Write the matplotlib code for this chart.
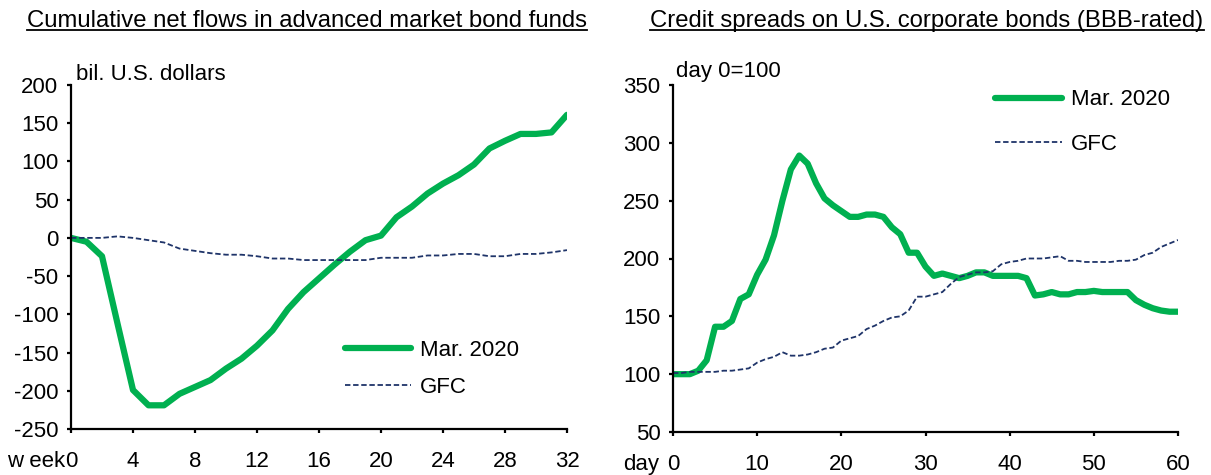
import matplotlib
matplotlib.use("Agg")
import matplotlib.pyplot as plt
from matplotlib.lines import Line2D

plt.rcParams['font.family'] = ['Liberation Sans', 'DejaVu Sans']
plt.rcParams['font.size'] = 16
plt.rcParams['axes.unicode_minus'] = False

# Left panel: cumulative net flows (bil. U.S. dollars), weekly
weeks = list(range(33))
flows_2020 = [0, -5, -24, -112, -199, -219, -219, -204, -195, -186, -171, -158, -141,
              -121, -93, -71, -53, -35, -18, -3, 3, 27, 41, 58, 71, 82, 96, 117, 127,
              136, 136, 138, 161]
flows_gfc = [0, 0, 0, 2, 0, -3, -6, -14, -17, -20, -22, -22, -24, -27, -27, -29, -29,
             -29, -29, -29, -26, -26, -26, -23, -23, -21, -21, -24, -24, -21, -21, -19, -16]

# Right panel: BBB credit spreads (day 0=100), daily
days = list(range(61))
spread_2020 = [100, 100, 100, 103, 112, 141, 141, 146, 165, 169, 186, 199, 220, 250, 277,
               289, 282, 265, 252, 246, 241, 236, 236, 238, 238, 236, 227, 221, 205, 205,
               193, 185, 187, 185, 183, 185, 188, 188, 185, 185, 185, 185, 183, 168, 169,
               171, 169, 169, 171, 171, 172, 171, 171, 171, 171, 164, 160, 157, 155, 154, 154]
spread_gfc = [101, 101, 102, 102, 102, 102, 103, 103, 104, 105, 110, 113, 115, 119, 116,
              116, 117, 119, 122, 123, 129, 131, 133, 139, 142, 146, 149, 150, 155, 167,
              167, 169, 171, 178, 184, 186, 188, 188, 189, 195, 197, 198, 200, 200, 200,
              201, 202, 198, 198, 197, 197, 197, 197, 198, 198, 199, 203, 205, 210, 213, 216]

green = '#00B050'
navy = '#1F3469'

W, H = 1211, 475
fig = plt.figure(figsize=(W / 100, H / 100), dpi=100)

def px_axes(left, right, top, bottom):
    return fig.add_axes([left / W, 1 - bottom / H, (right - left) / W, (bottom - top) / H])

ax1 = px_axes(71, 567, 85, 429)
ax2 = px_axes(673, 1178, 85, 432)

XPAD = 12.5

def style(ax):
    for s in ['top', 'right']:
        ax.spines[s].set_visible(False)
    for s in ['left', 'bottom']:
        ax.spines[s].set_linewidth(1.6)
    ax.tick_params(axis='x', direction='out', length=3, width=1.6, labelsize=16, pad=XPAD)
    ax.tick_params(axis='y', direction='out', length=3, width=1.6, labelsize=16, pad=6)

def xlabel_left(ax, txt, gap):
    # sits on the same line as the x tick labels, left of the 0 tick
    ax.annotate(txt, xy=(0, 0), xycoords='axes fraction', xytext=(-gap, -(3 + XPAD)),
                textcoords='offset points', ha='right', va='top', fontsize=16)

ax1.plot(weeks, flows_2020, color=green, lw=4.5, label='Mar. 2020', solid_capstyle='round')
ax1.plot(weeks, flows_gfc, color=navy, lw=1.3, ls=(0, (3, 1.5)), label='GFC')
ax1.set_xlim(0, 32)
ax1.set_ylim(-250, 200)
ax1.set_xticks(range(0, 33, 4))
ax1.set_yticks(range(-250, 201, 50))
style(ax1)
ax1.legend(loc='center left', bbox_to_anchor=(0.552, 0.175), frameon=False, fontsize=16,
           handlelength=3.0, handletextpad=0.4, labelspacing=0.72, borderpad=0,
           borderaxespad=0)
ax1.text(0.01, 1.0, 'bil. U.S. dollars', transform=ax1.transAxes, ha='left', va='bottom',
         fontsize=16)
xlabel_left(ax1, 'w eek', 4)

ax2.plot(days, spread_2020, color=green, lw=4.5, label='Mar. 2020', solid_capstyle='round')
ax2.plot(days, spread_gfc, color=navy, lw=1.3, ls=(0, (3, 1.5)), label='GFC')
ax2.set_xlim(0, 60)
ax2.set_ylim(50, 350)
ax2.set_xticks(range(0, 61, 10))
ax2.set_yticks(range(50, 351, 50))
style(ax2)
ax2.legend(loc='center left', bbox_to_anchor=(0.638, 0.893), frameon=False, fontsize=16,
           handlelength=3.0, handletextpad=0.4, labelspacing=1.05, borderpad=0,
           borderaxespad=0)
ax2.text(0.006, 1.01, 'day 0=100', transform=ax2.transAxes, ha='left', va='bottom',
         fontsize=16)
xlabel_left(ax2, 'day', 10)

# underlined titles
titles = [('Cumulative net flows in advanced market bond funds', 307),
          ('Credit spreads on U.S. corporate bonds (BBB-rated)', 927)]
fig.canvas.draw()
renderer = fig.canvas.get_renderer()
for txt, cx in titles:
    t = fig.text(cx / W, 1 - 21 / H, txt, ha='center', va='center', fontsize=17.2)
    bb = t.get_window_extent(renderer).transformed(fig.transFigure.inverted())
    fig.add_artist(Line2D([bb.x0, bb.x1], [bb.y0 + 0.004, bb.y0 + 0.004], color='black',
                          lw=1.3, transform=fig.transFigure))

fig.savefig('out.png', dpi=100)
